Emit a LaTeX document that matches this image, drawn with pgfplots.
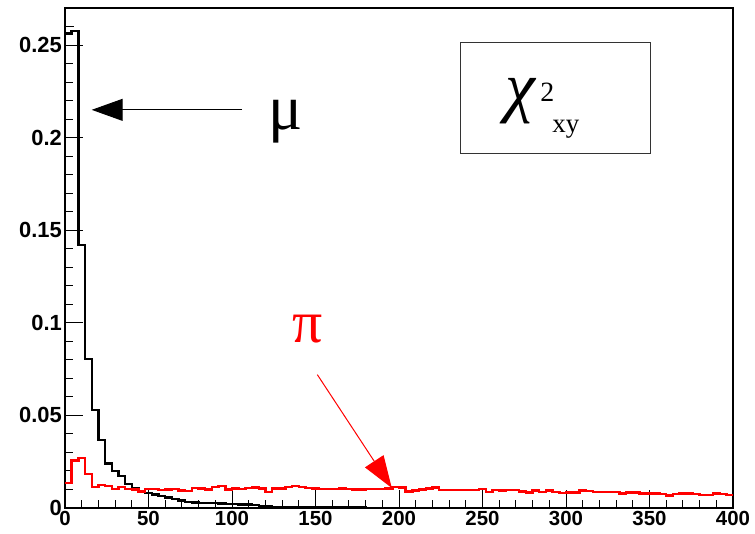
\documentclass[border=0pt]{standalone}
\usepackage{fontspec}
\setmainfont{Liberation Sans}
\newfontfamily\tms{Liberation Serif}
\usepackage{pgfplots}
\pgfplotsset{compat=1.18}
\usetikzlibrary{arrows.meta}
\begin{document}
\begin{tikzpicture}
\useasboundingbox (0,0) rectangle (755bp,534bp);
\begin{axis}[
  at={(65bp,26bp)}, anchor=south west,
  scale only axis, width=668bp, height=500bp,
  xmin=0, xmax=400, ymin=0, ymax=0.27,
  xtick={0,50,100,150,200,250,300,350,400},
  ytick={0,0.05,0.1,0.15,0.2,0.25},
  yticklabels={0,0.05,0.1,0.15,0.2,0.25},
  xticklabels={0,50,100,150,200,250,300,350,400},
  extra y ticks={0.26}, extra y tick labels={},
  extra y tick style={major tick length=9bp},
  minor x tick num=4, minor y tick num=4,
  xtick pos=left, ytick pos=left,
  tick align=inside,
  major tick length=18bp, minor tick length=8bp,
  axis line style={line width=1.2bp},
  every tick/.style={line width=1bp, black},
  ticklabel style={inner sep=1bp},
  xticklabel style={font=\fontsize{20.5}{20.5}\selectfont\bfseries, yshift=-2bp},
  yticklabel style={font=\fontsize{22}{22}\selectfont\bfseries, xshift=-2bp},
  /pgf/number format/assume math mode=true,
  clip=true,
]
\addplot[const plot, black, line width=2.4bp] table {
x y
0 0.2563
4 0.2577
8 0.1420
12 0.0805
16 0.0530
20 0.0368
24 0.0240
28 0.0200
32 0.0172
36 0.0130
40 0.0105
44 0.0092
48 0.0082
52 0.0072
56 0.0064
60 0.0056
64 0.0048
68 0.0040
72 0.0034
76 0.0030
80 0.0028
84 0.0027
88 0.0026
92 0.0025
96 0.0022
100 0.0020
104 0.0019
108 0.0018
112 0.0016
116 0.0011
120 0.0009
124 0.0007
128 0.0006
132 0.0005
136 0.0005
140 0.0004
144 0.0003
148 0.0003
152 0.0003
156 0.0003
160 0.0002
164 0.0002
168 0.0002
172 0.0002
176 0.0002
180 0.0001
184 0.0001
188 0.0001
192 0.0001
196 0.0001
200 0
400 0
};
\addplot[const plot, red, line width=2.4bp] table {
x y
0 0.0134
4 0.0256
8 0.0269
12 0.0184
16 0.0115
20 0.0124
24 0.0119
28 0.0103
32 0.0115
36 0.0101
40 0.0100
44 0.0090
48 0.0101
52 0.0101
56 0.0098
60 0.0100
64 0.0102
68 0.0095
72 0.0093
76 0.0108
80 0.0106
84 0.0100
88 0.0115
92 0.0120
96 0.0100
100 0.0106
104 0.0102
108 0.0108
112 0.0110
116 0.0106
120 0.0088
124 0.0106
128 0.0106
132 0.0112
136 0.0118
140 0.0112
144 0.0108
148 0.0106
152 0.0104
156 0.0104
160 0.0104
164 0.0106
168 0.0102
172 0.0100
176 0.0100
180 0.0102
184 0.0102
188 0.0102
192 0.0106
196 0.0112
200 0.0110
204 0.0090
208 0.0094
212 0.0100
216 0.0106
220 0.0110
224 0.0098
228 0.0097
232 0.0097
236 0.0097
240 0.0097
244 0.0097
248 0.0103
252 0.0088
256 0.0097
260 0.0095
264 0.0097
268 0.0097
272 0.0090
276 0.0083
280 0.0094
284 0.0088
288 0.0094
292 0.0088
296 0.0081
300 0.0083
304 0.0083
308 0.0094
312 0.0092
316 0.0088
320 0.0088
324 0.0088
328 0.0086
332 0.0079
336 0.0083
340 0.0083
344 0.0079
348 0.0079
352 0.0079
356 0.0074
360 0.0068
364 0.0076
368 0.0079
372 0.0079
376 0.0074
380 0.0070
384 0.0070
388 0.0079
392 0.0076
396 0.0070
400 0.0070
};
% chi^2_xy box
\draw[line width=1bp, black!80, fill=white] (axis cs:237.1,0.2513) rectangle (axis cs:350.3,0.1912);
\node[anchor=base, inner sep=0pt, font=\tms\fontsize{68}{68}\selectfont\itshape] at (axis cs:272.5,0.2150) {χ};
\node[anchor=base west, inner sep=0pt, font=\tms\fontsize{28}{28}\selectfont] at (axis cs:284.5,0.2196) {2};
\node[anchor=base west, inner sep=0pt, font=\tms\fontsize{27}{27}\selectfont] at (axis cs:291.7,0.2025) {xy};
% mu
\draw[line width=1bp, black, -{Triangle[length=31bp, width=22bp]}] (axis cs:106,0.2150) -- (axis cs:16,0.2150);
\node[anchor=base, inner sep=0pt, font=\tms\fontsize{64}{64}\selectfont] at (axis cs:132.3,0.2042) {μ};
% pi
\draw[line width=1bp, red, -{Triangle[length=32bp, width=22bp]}] (axis cs:151.1,0.0720) -- (axis cs:195.7,0.0108);
\node[anchor=base, inner sep=0pt, red, font=\tms\fontsize{60}{60}\selectfont] at (axis cs:145.2,0.0892) {π};
\end{axis}
\end{tikzpicture}
\end{document}
